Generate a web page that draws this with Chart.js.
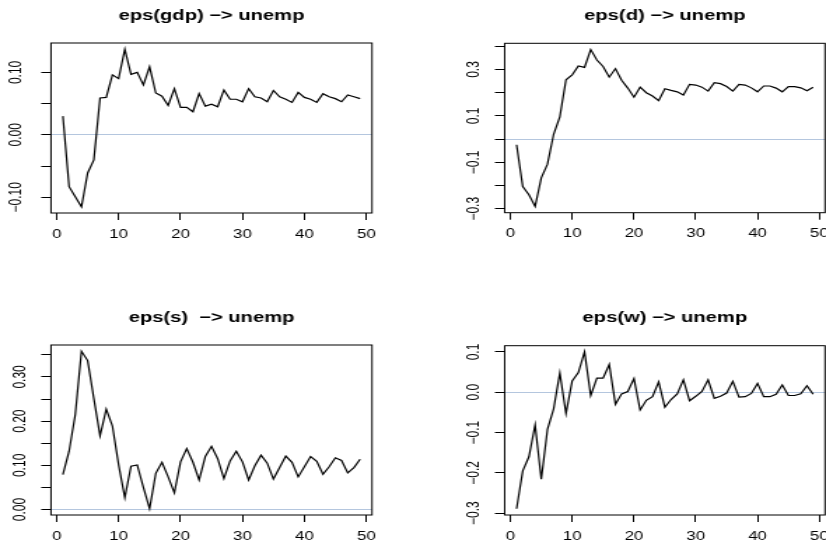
<!DOCTYPE html>
<html>
<head>
<meta charset="utf-8">
<script src="https://cdn.jsdelivr.net/npm/chart.js@4/dist/chart.umd.min.js"></script>
<style>
  body { margin: 0; width: 826px; height: 547px; overflow: hidden; background: #fff; }
  .panel { position: absolute; transform-origin: 0 0; }
</style>
</head>
<body>
<div class="panel" id="p1"><canvas id="c1"></canvas></div>
<div class="panel" id="p2"><canvas id="c2"></canvas></div>
<div class="panel" id="p3"><canvas id="c3"></canvas></div>
<div class="panel" id="p4"><canvas id="c4"></canvas></div>
<script>
// impulse horizons
const steps = [1, 2, 3, 4, 5, 6, 7, 8, 9, 10, 11, 12, 13, 14, 15, 16, 17, 18, 19, 20,
  21, 22, 23, 24, 25, 26, 27, 28, 29, 30, 31, 32, 33, 34, 35, 36, 37, 38, 39, 40,
  41, 42, 43, 44, 45, 46, 47, 48, 49];

// responses of unemp
const gdpResp = [0.030, -0.083, -0.099, -0.115, -0.061, -0.040, 0.059, 0.060, 0.096, 0.090,
  0.137, 0.097, 0.100, 0.080, 0.109, 0.067, 0.062, 0.047, 0.074, 0.044,
  0.044, 0.037, 0.066, 0.046, 0.049, 0.045, 0.072, 0.057, 0.057, 0.053,
  0.074, 0.061, 0.059, 0.053, 0.071, 0.061, 0.057, 0.052, 0.068, 0.060,
  0.057, 0.052, 0.066, 0.061, 0.058, 0.053, 0.064, 0.061, 0.058];
const dResp = [-0.024, -0.204, -0.240, -0.290, -0.167, -0.108, 0.021, 0.096, 0.256, 0.277,
  0.315, 0.309, 0.386, 0.341, 0.313, 0.267, 0.304, 0.254, 0.220, 0.181,
  0.224, 0.200, 0.186, 0.166, 0.217, 0.210, 0.204, 0.190, 0.236, 0.233,
  0.224, 0.207, 0.243, 0.239, 0.227, 0.207, 0.236, 0.233, 0.221, 0.204,
  0.229, 0.229, 0.220, 0.204, 0.226, 0.226, 0.221, 0.209, 0.224];
const sResp = [0.079, 0.132, 0.215, 0.358, 0.337, 0.251, 0.167, 0.227, 0.189, 0.101,
  0.027, 0.098, 0.101, 0.050, 0.002, 0.082, 0.107, 0.074, 0.038, 0.108,
  0.138, 0.107, 0.067, 0.120, 0.143, 0.115, 0.070, 0.110, 0.132, 0.108,
  0.067, 0.099, 0.123, 0.105, 0.069, 0.095, 0.121, 0.107, 0.074, 0.097,
  0.120, 0.109, 0.080, 0.097, 0.117, 0.111, 0.083, 0.095, 0.114];
const wResp = [-0.289, -0.195, -0.160, -0.081, -0.216, -0.092, -0.041, 0.048, -0.053, 0.028,
  0.049, 0.100, -0.008, 0.035, 0.035, 0.069, -0.030, -0.004, 0.002, 0.034,
  -0.044, -0.020, -0.011, 0.026, -0.037, -0.018, -0.004, 0.031, -0.021, -0.010,
  0.002, 0.031, -0.015, -0.010, -0.002, 0.027, -0.012, -0.011, -0.003, 0.022,
  -0.011, -0.011, -0.005, 0.018, -0.008, -0.008, -0.004, 0.016, -0.005];

const titles = ['eps(gdp) \u2212> unemp', 'eps(d) \u2212> unemp', 'eps(s)  \u2212> unemp', 'eps(w) \u2212> unemp'];

const xTicks = [0, 10, 20, 30, 40, 50];
const xTickLabels = ['0', '10', '20', '30', '40', '50'];

const gdpTicks = [-0.10, -0.05, 0, 0.05, 0.10];
const gdpTickLabels = ['\u22120.10', '', '0.00', '', '0.10'];
const dTicks = [-0.3, -0.2, -0.1, 0, 0.1, 0.2, 0.3, 0.4];
const dTickLabels = ['\u22120.3', '', '\u22120.1', '', '0.1', '', '0.3', ''];
const sTicks = [0, 0.05, 0.10, 0.15, 0.20, 0.25, 0.30, 0.35];
const sTickLabels = ['0.00', '', '0.10', '', '0.20', '', '0.30', ''];
const wTicks = [-0.3, -0.2, -0.1, 0, 0.1];
const wTickLabels = ['\u22120.3', '\u22120.2', '\u22120.1', '0.0', '0.1'];

// the picture is stretched sideways, so draw narrow and scale it
const S = 1.4;
const FONT = "'Liberation Sans', Arial, Helvetica, sans-serif";

const boxPlugin = {
  id: 'box',
  afterDraw(chart) {
    const a = chart.chartArea, c = chart.ctx;
    c.save();
    c.strokeStyle = '#000';
    c.lineWidth = 1;
    c.strokeRect(a.left, a.top, a.right - a.left, a.bottom - a.top);
    c.restore();
  }
};

function makePanel(n, values, yTicks, yLabels, g) {
  const div = document.getElementById('p' + n);
  div.style.left = g.left + 'px';
  div.style.top = g.top + 'px';
  div.style.width = (g.w / S) + 'px';
  div.style.height = g.h + 'px';
  div.style.transform = 'scaleX(' + S + ')';

  // R style range: data range plus 4% each side
  const lo = Math.min(...values), hi = Math.max(...values);
  const xPad = (steps[steps.length - 1] - steps[0]) * 0.04;
  const yPad = (hi - lo) * 0.04;

  const yAxisW = (g.areaLeft - g.left) / S;
  const padRight = (g.left + g.w - g.areaRight) / S;
  const xAxisH = g.top + g.h - g.areaBottom;
  const titleTop = g.titleY - g.top - 14.4 * 1.2 / 2;
  const titleBottom = g.areaTop - g.top - titleTop - 14.4 * 1.2;

  return new Chart(document.getElementById('c' + n).getContext('2d'), {
    type: 'line',
    data: {
      datasets: [{
        data: steps.map((x, i) => ({ x: x, y: values[i] })),
        borderColor: '#000',
        borderWidth: 1.2,
        pointRadius: 0,
        tension: 0,
        fill: false
      }]
    },
    options: {
      responsive: true,
      maintainAspectRatio: false,
      animation: false,
      layout: { padding: { left: 0, right: padRight, top: 0, bottom: 0 } },
      plugins: {
        legend: { display: false },
        tooltip: { enabled: false },
        title: {
          display: true,
          text: titles[n - 1],
          fullSize: false,
          color: '#000',
          font: { family: FONT, size: 14.4, weight: 'bold' },
          padding: { top: titleTop, bottom: titleBottom }
        }
      },
      scales: {
        x: {
          type: 'linear',
          min: steps[0] - xPad,
          max: steps[steps.length - 1] + xPad,
          afterBuildTicks: s => { s.ticks = xTicks.map(v => ({ value: v })); },
          afterFit: s => { s.height = xAxisH; s.paddingLeft = 0; s.paddingRight = 0; },
          border: { display: false },
          grid: { drawOnChartArea: false, drawTicks: true, tickLength: 7, tickColor: '#000' },
          ticks: {
            color: '#000',
            padding: 7,
            maxRotation: 0,
            autoSkip: false,
            font: { family: FONT, size: 12 },
            callback: (v, i) => xTickLabels[i]
          }
        },
        y: {
          type: 'linear',
          min: lo - yPad,
          max: hi + yPad,
          afterBuildTicks: s => { s.ticks = yTicks.map(v => ({ value: v })); },
          afterFit: s => { s.width = yAxisW; s.paddingTop = 0; s.paddingBottom = 0; },
          border: { display: false },
          grid: {
            drawOnChartArea: true,
            drawTicks: true,
            tickLength: 7,
            tickColor: '#000',
            color: c => (c.tick && Math.abs(c.tick.value) < 1e-9 ? '#b4c6de' : 'rgba(0,0,0,0)')
          },
          ticks: {
            color: '#000',
            padding: 3,
            minRotation: 90,
            maxRotation: 90,
            crossAlign: 'center',
            autoSkip: false,
            font: { family: FONT, size: 12 },
            callback: (v, i) => yLabels[i]
          }
        }
      }
    },
    plugins: [boxPlugin]
  });
}

makePanel(1, gdpResp, gdpTicks, gdpTickLabels,
  { left: 0, top: 0, w: 413, h: 273, areaLeft: 51, areaRight: 372, areaTop: 43, areaBottom: 213, titleY: 16 });
makePanel(2, dResp, dTicks, dTickLabels,
  { left: 413, top: 0, w: 413, h: 273, areaLeft: 504.7, areaRight: 825, areaTop: 43.3, areaBottom: 212.7, titleY: 16 });
makePanel(3, sResp, sTicks, sTickLabels,
  { left: 0, top: 273, w: 413, h: 274, areaLeft: 51, areaRight: 372, areaTop: 345, areaBottom: 515, titleY: 318 });
makePanel(4, wResp, wTicks, wTickLabels,
  { left: 413, top: 273, w: 413, h: 274, areaLeft: 504.7, areaRight: 825, areaTop: 345.7, areaBottom: 515, titleY: 318 });
</script>
</body>
</html>
